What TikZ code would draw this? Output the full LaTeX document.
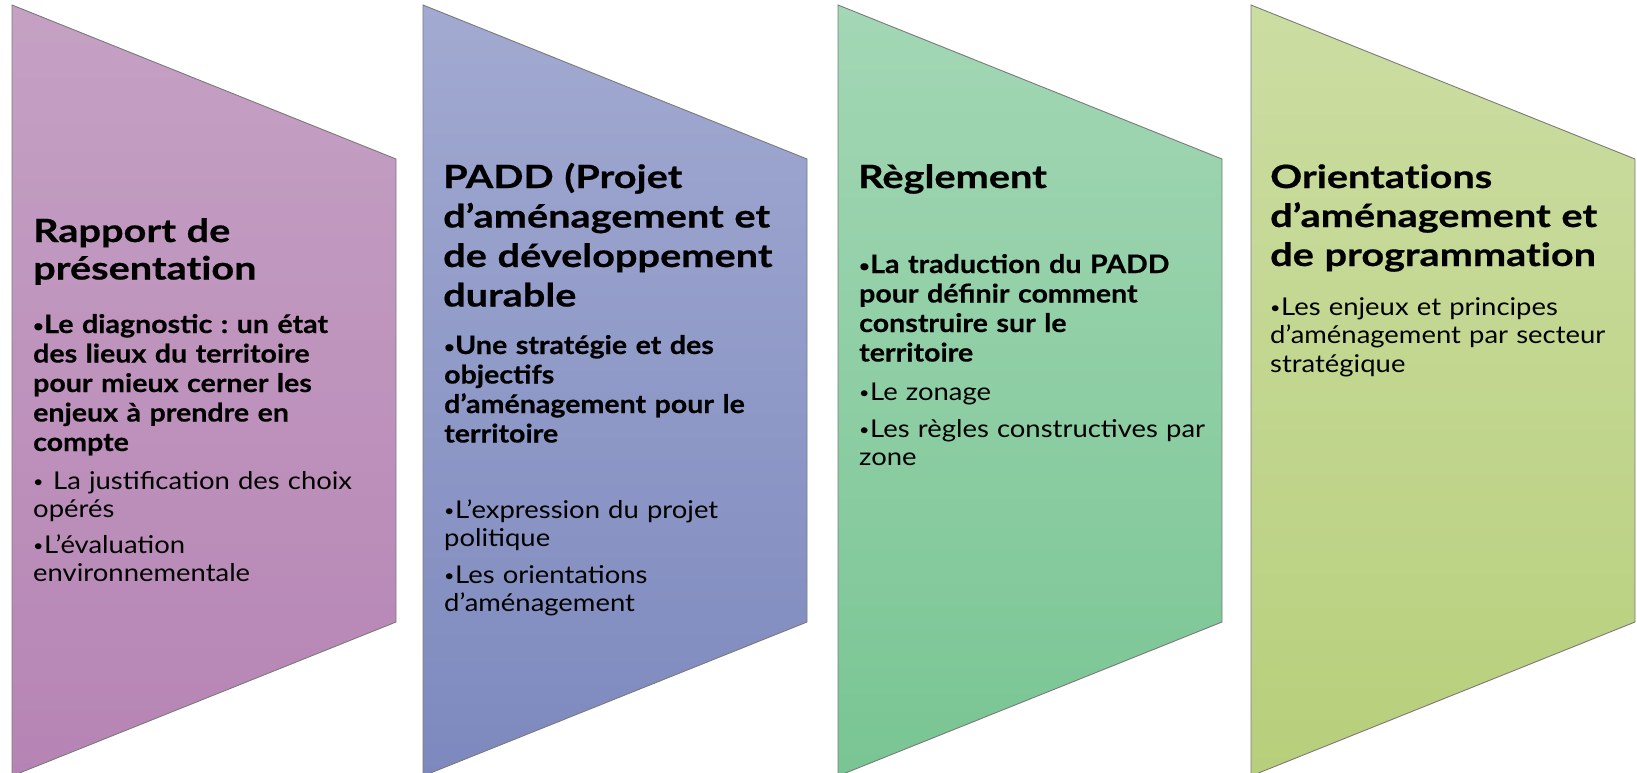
\documentclass[tikz,border=0pt]{standalone}
\usepackage{fontspec}
\setmainfont{Lato}
\frenchspacing
\definecolor{pinkTop}{HTML}{C5A1C4}
\definecolor{pinkBot}{HTML}{B684B4}
\definecolor{blueTop}{HTML}{A2AAD1}
\definecolor{blueBot}{HTML}{7D89BE}
\definecolor{greenTop}{HTML}{A3D7B5}
\definecolor{greenBot}{HTML}{79C593}
\definecolor{limeTop}{HTML}{CCDDA2}
\definecolor{limeBot}{HTML}{B7CF7B}
\definecolor{edgeGray}{HTML}{7A7A7A}
% hanging bullet for list items
\newcommand\bul{\hangindent=11pt\hangafter=1\makebox[11pt][l]{\raisebox{1.5pt}{\fontsize{16}{16}\selectfont\textbullet}}}
\newcommand\headsize[1]{\fontsize{32}{#1}\selectfont\bfseries\addfontfeatures{FakeStretch=1.24,FakeBold=0.6,Ligatures=NoCommon}}
\tikzset{
  panel/.style 2 args={draw=edgeGray, line width=0.9pt, top color=#1, bottom color=#2},
  txt/.style={anchor=base west, inner sep=0pt, text width=380pt, align=left},
  heading/.style={txt, font=\headsize{37.5}},
  strong/.style={txt, font=\fontsize{25.5}{29.5}\selectfont\bfseries\addfontfeatures{FakeStretch=1.12,FakeBold=0.5}},
  plain/.style={txt, font=\fontsize{24.5}{28.5}\selectfont\addfontfeatures{FakeStretch=1.12}},
}
\begin{document}
\begin{tikzpicture}[x=1pt,y=-1pt]
\useasboundingbox (0,0) rectangle (1637,773);
% four slanted panels
\path[panel={pinkTop}{pinkBot}]   (12,5)   -- (396,159)  -- (396,622)  -- (12,776)   -- cycle;
\path[panel={blueTop}{blueBot}]   (423,5)  -- (807,159)  -- (807,622)  -- (423,776)  -- cycle;
\path[panel={greenTop}{greenBot}] (838,5)  -- (1222,159) -- (1222,622) -- (838,776)  -- cycle;
\path[panel={limeTop}{limeBot}]   (1251,5) -- (1635,159) -- (1635,622) -- (1251,776) -- cycle;

% panel 1
\node[heading] (h1) at (33,242) {Rapport de\\présentation};
\node[strong] (p1a) at (33,333) {\bul Le diagnostic : un état\\des lieux du territoire\\pour mieux cerner les\\enjeux à prendre en\\compte};
\node[plain] (p1b) at (33,489) {\bul\hspace{9pt}La justification des choix\\opérés};
\node[plain] (p1c) at (33,553) {\bul L’évaluation\\environnementale};

% panel 2
\node[heading, font=\headsize{39.5}] (h2) at (443,188) {PADD (Projet\\d’aménagement et\\de développement\\durable};
\node[strong] (p2a) at (444,354) {\bul Une stratégie et des\\objectifs\\d’aménagement pour le\\territoire};
\node[plain] (p2b) at (444,518) {\bul L’expression du projet\\politique};
\node[plain] (p2c) at (444,583) {\bul Les orientations\\d’aménagement};

% panel 3
\node[heading] (h3) at (858,188) {Règlement};
\node[strong] (p3a) at (859,273) {\bul La traduction du PADD\\pour définir comment\\construire sur le\\territoire};
\node[plain] (p3b) at (859,400) {\bul Le zonage};
\node[plain] (p3c) at (859,437) {\bul Les règles constructives par\\zone};

% panel 4
\node[heading, font=\headsize{39}] (h4) at (1270,188) {Orientations\\d’aménagement et\\de programmation};
\node[plain] (p4a) at (1270,315) {\bul Les enjeux et principes\\d’aménagement par secteur\\stratégique};
\end{tikzpicture}
\end{document}
